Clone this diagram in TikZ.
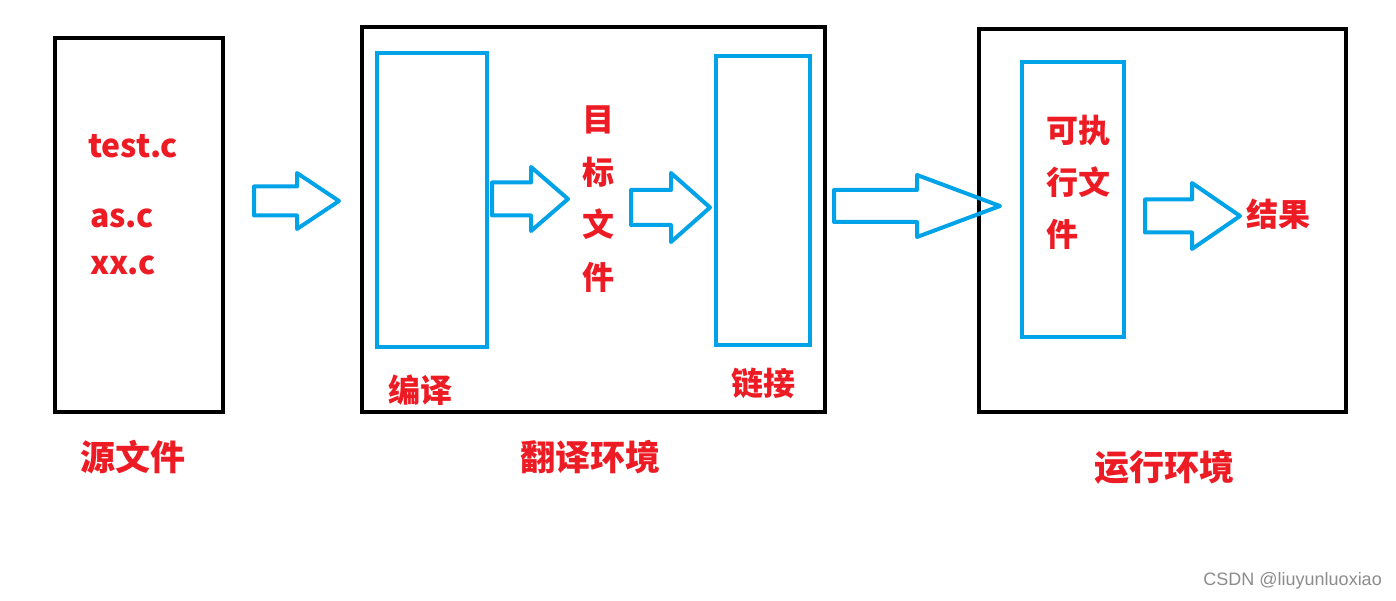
\documentclass[tikz,border=0pt]{standalone}
\usepackage{fontspec}
\newfontfamily\cjk{Noto Sans CJK SC}
\newfontfamily\wmfont{Liberation Sans}
\definecolor{pred}{HTML}{ED1C24}
\definecolor{pblue}{HTML}{00A2E8}
\tikzset{
  blackbox/.style={draw=black, line width=4pt, inner sep=0pt},
  bluebox/.style={draw=pblue, line width=3.5pt, inner sep=0pt},
  fatarr/.style={draw=pblue, line width=4pt, line join=round},
  lbl/.style={text=pred, font=\cjk\bfseries\fontsize{32}{36}\selectfont, inner sep=0pt},
  biglbl/.style={text=pred, font=\cjk\bfseries\fontsize{35}{40}\selectfont, inner sep=0pt}
}
% #1 tail, #2 shaft length, #3 total length, #4 half shaft, #5 half head
\newcommand{\fatarrow}[5]{%
  \draw[fatarr, shift={(#1)}] (0,-#4) -- (#2,-#4) -- (#2,-#5) -- (#3,0)
    -- (#2,#5) -- (#2,#4) -- (0,#4) -- cycle;}
\begin{document}
\begin{tikzpicture}[x=1pt, y=-1pt]
	\useasboundingbox[fill=white] (0,0) rectangle (1396,601);

	% boxes
	\node[blackbox, minimum width=168pt, minimum height=374pt] (src) at (139,225) {};
	\node[blackbox, minimum width=463pt, minimum height=385pt] (trans) at (593.5,219.5) {};
	\node[blackbox, minimum width=367pt, minimum height=383pt] (run) at (1162.5,220.5) {};
	\node[bluebox, minimum width=110pt, minimum height=294pt] (compile) at (432,200) {};
	\node[bluebox, minimum width=94pt, minimum height=289pt] (link) at (763,200.5) {};
	\node[bluebox, minimum width=102pt, minimum height=275pt] (exe) at (1073,199.5) {};

	% texts
	\node[lbl, anchor=west] (testc) at (88,146) {test.c};
	\node[lbl, anchor=west] (asc) at (90,218) {as.c};
	\node[lbl, anchor=west] (xxc) at (90,265) {xx.c};
	\node[lbl, align=center, font=\cjk\bfseries\fontsize{32}{52.5}\selectfont] (target) at (598,199) {目\\标\\文\\件};
	\node[lbl, align=left, font=\cjk\bfseries\fontsize{32}{52}\selectfont] (exetxt) at (1078,182) {可执\\行文\\件};
	\node[lbl] (result) at (1278,214) {结果};
	\node[lbl] (compiletxt) at (420,390) {编译};
	\node[lbl] (linktxt) at (763,383) {链接};
	\node[biglbl] (srclbl) at (133,457) {源文件};
	\node[biglbl] (translbl) at (590,457) {翻译环境};
	\node[biglbl] (runlbl) at (1164,467) {运行环境};
	\node[text=black!45, font=\wmfont\fontsize{18}{20}\selectfont, anchor=east, inner sep=0pt] (mark) at (1382,581) {CSDN @liuyunluoxiao};

	% arrows
	\coordinate (a1) at (254,201);
	\coordinate (a2) at (492,199);
	\coordinate (a3) at (631,207.5);
	\coordinate (a4) at (834,206);
	\coordinate (a5) at (1145,216);
	\fatarrow{a1}{43}{85}{14.5}{28}
	\fatarrow{a2}{39}{76}{16.5}{32}
	\fatarrow{a3}{40}{79}{17.5}{34.5}
	\fatarrow{a4}{83}{166}{16}{31}
	\fatarrow{a5}{47}{95}{16.5}{33}
\end{tikzpicture}
\end{document}
